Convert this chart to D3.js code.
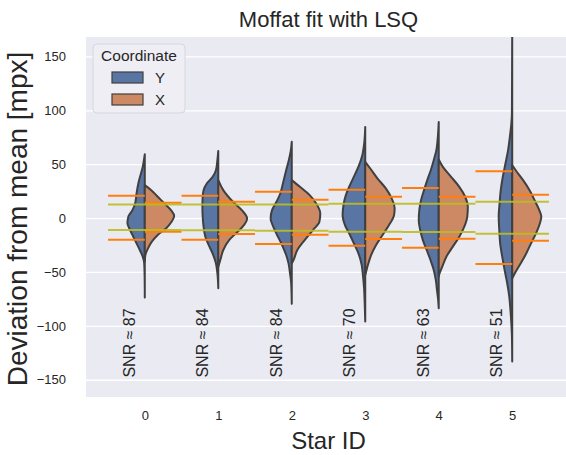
<!DOCTYPE html>
<html>
<head>
<meta charset="utf-8">
<script src="https://cdn.jsdelivr.net/npm/d3@7"></script>
<style>
  body { margin: 0; background: #fff; }
  text { font-family: "Liberation Sans", Arial, sans-serif; fill: #262626; }
</style>
</head>
<body>
<svg id="chart" width="566" height="455"></svg>
<script>
// ---- data -------------------------------------------------------------
const stars = [0, 1, 2, 3, 4, 5];
const snr = [87, 84, 84, 70, 63, 51];
const coordinates = ["Y", "X"];
const yTicks = [-150, -100, -50, 0, 50, 100, 150];

// Kernel density profiles per star: [deviation (mpx), relative density]
const densityY = [
  [[59.3,0],[53.7,.03],[47.5,.07],[41.4,.13],[32.1,.22],[22.8,.28],[13.6,.33],[7.4,.42],[1.2,.56],[-4.9,.59],[-11.1,.50],[-17.3,.39],[-23.5,.28],[-29.6,.17],[-35.8,.07],[-42,.02],[-55,.005],[-73.8,0]],
  [[62.3,0],[53.7,.03],[44.4,.08],[38.3,.19],[32.1,.39],[25.9,.50],[19.8,.53],[10.5,.54],[1.2,.53],[-8,.50],[-17.3,.44],[-26.5,.30],[-34.3,.17],[-42,.08],[-51.2,.03],[-65.1,0]],
  [[70.7,0],[63,.03],[53.7,.10],[44.4,.19],[32.1,.30],[22.8,.39],[15.1,.52],[7.4,.67],[-0.3,.72],[-8,.63],[-15.7,.50],[-25,.33],[-34.3,.19],[-42,.11],[-51.2,.06],[-60.5,.02],[-79.6,0]],
  [[84.6,0],[70.7,.03],[58.3,.10],[49.1,.21],[39.8,.36],[30.6,.52],[21.3,.66],[12,.74],[2.8,.77],[-6.5,.69],[-15.7,.52],[-25,.36],[-34.3,.21],[-43.5,.12],[-52.8,.08],[-65.1,.04],[-77.5,.02],[-96,0]],
  [[89.2,0],[75.3,.03],[63,.08],[53.7,.17],[44.4,.27],[35.2,.39],[25.9,.50],[16.7,.60],[7.4,.66],[-1.9,.68],[-11.1,.63],[-20.4,.54],[-29.6,.41],[-38.9,.28],[-48.1,.17],[-57.4,.10],[-66.7,.06],[-75.9,.02],[-83.6,0]],
  [[175,0],[96.9,.01],[87.7,.03],[75.3,.08],[63,.14],[50.6,.23],[38.3,.32],[25.9,.39],[13.6,.43],[1.2,.46],[-11.1,.44],[-23.5,.41],[-35.8,.34],[-48.1,.26],[-60.5,.17],[-72.8,.10],[-85.2,.06],[-97.5,.03],[-109.9,.01],[-133,0]]
];
const densityX = [
  [[30.6,0],[25.9,.22],[19.8,.44],[13.6,.67],[7.4,.89],[1.9,1.0],[-3.4,.91],[-9.6,.72],[-15.7,.44],[-21.9,.24],[-28.1,.11],[-34.3,.02],[-40,0]],
  [[35.2,0],[25.9,.17],[15.1,.50],[7.4,.80],[-0.3,.98],[-8,.83],[-14.2,.60],[-20.4,.37],[-29.6,.17],[-38.9,.07],[-45.1,0]],
  [[35.2,0],[29,.28],[21.3,.61],[13.6,.83],[4.3,.97],[-3.4,.94],[-11.1,.72],[-20.4,.44],[-29.6,.19],[-38.9,.06],[-42,0]],
  [[52.2,0],[46,.17],[36.7,.42],[27.5,.70],[18.2,.90],[9,1.0],[2.8,.98],[-6.5,.81],[-15.7,.59],[-25,.37],[-34.3,.20],[-43.5,.09],[-49.7,.03],[-52.8,0]],
  [[54.3,0],[47.5,.14],[38.3,.42],[29,.70],[19.8,.90],[10.5,.99],[1.2,.97],[-8,.87],[-17.3,.70],[-26.5,.48],[-35.8,.26],[-45.1,.12],[-51.2,.03],[-54.3,0]],
  [[49.1,0],[44.4,.12],[35.2,.37],[25.9,.59],[16.7,.76],[7.4,.92],[1.2,.99],[-5,.94],[-14.2,.81],[-23.5,.64],[-32.7,.48],[-42,.29],[-51.2,.09],[-55.9,0]]
];

// Measured scatter (orange) per coordinate
const scatterYUpper = [20.6, 20.7, 24.4, 26.2, 27.8, 43.5];
const scatterYLower = [-20.1, -20.1, -24.1, -25.6, -27.5, -42.6];
const scatterXUpper = [14.2, 15.1, 17.0, 19.8, 19.8, 21.6];
const scatterXLower = [-12.7, -14.8, -15.4, -19.4, -19.1, -21.0];
// Expected scatter from SNR (olive)
const expectedUpper = [12.7, 12.7, 12.7, 13.3, 13.3, 15.1];
const expectedLower = [-11.1, -11.4, -11.7, -12.7, -13.0, -14.5];

// ---- layout -----------------------------------------------------------
const svg = d3.select("#chart");
const plot = { left: 86, right: 571, top: 37, bottom: 397 };
const colors = { Y: "#5975a4", X: "#cc8963" };
const edge = "#404040";
const font = '"Liberation Sans", Arial, sans-serif';

const x = d3.scaleLinear().domain([-0.8, 5.8]).range([plot.left, plot.right]);
const y = d3.scaleLinear().domain([-166, 168]).range([plot.bottom, plot.top]);
const step = x(1) - x(0);
const halfWidth = d3.scaleLinear().domain([0, 1]).range([0, 0.4 * step]);

svg.append("defs").append("clipPath").attr("id", "plotClip")
  .append("rect")
  .attr("x", plot.left).attr("y", plot.top)
  .attr("width", plot.right - plot.left).attr("height", plot.bottom - plot.top);

// background and horizontal grid
svg.append("rect")
  .attr("x", plot.left).attr("y", plot.top)
  .attr("width", plot.right - plot.left).attr("height", plot.bottom - plot.top)
  .attr("fill", "#eaeaf2");

const yAxis = d3.axisLeft(y).tickValues(yTicks)
  .tickSize(-(plot.right - plot.left)).tickPadding(20)
  .tickFormat(d => d < 0 ? "\u2212" + Math.abs(d) : String(d));
const gy = svg.append("g").attr("transform", `translate(${plot.left},0)`).call(yAxis);
gy.select(".domain").remove();
gy.selectAll(".tick line").attr("stroke", "#ffffff").attr("stroke-width", 1.3);
gy.selectAll(".tick text").attr("font-size", 13).attr("fill", "#262626").style("font-family", font);

const xAxis = d3.axisBottom(x).tickValues(stars).tickSize(0).tickPadding(14)
  .tickFormat(d3.format("d"));
const gx = svg.append("g").attr("transform", `translate(0,${plot.bottom})`).call(xAxis);
gx.select(".domain").remove();
gx.selectAll(".tick text").attr("font-size", 13).attr("fill", "#262626").style("font-family", font);

// ---- violins ----------------------------------------------------------
const body = svg.append("g").attr("clip-path", "url(#plotClip)");

stars.forEach((s, i) => {
  const cx = x(s);
  [["Y", densityY[i], -1], ["X", densityX[i], 1]].forEach(([coord, prof, sign]) => {
    const area = d3.area()
      .curve(d3.curveMonotoneY)
      .y(d => y(d[0]))
      .x0(() => cx)
      .x1(d => cx + sign * halfWidth(d[1]));
    body.append("path")
      .attr("d", area(prof))
      .attr("fill", colors[coord])
      .attr("stroke", edge)
      .attr("stroke-width", 2)
      .attr("stroke-linejoin", "round");
  });
});

// measured scatter, one half per coordinate
const segs = [];
stars.forEach((s, i) => {
  segs.push([s - 0.5, s, scatterYUpper[i]], [s - 0.5, s, scatterYLower[i]]);
  segs.push([s, s + 0.5, scatterXUpper[i]], [s, s + 0.5, scatterXLower[i]]);
});
body.selectAll("line.scatter").data(segs).join("line")
  .attr("class", "scatter")
  .attr("x1", d => x(d[0])).attr("x2", d => x(d[1]))
  .attr("y1", d => y(d[2])).attr("y2", d => y(d[2]))
  .attr("stroke", "#ff7f0e").attr("stroke-width", 2);

// expected scatter across the whole category
const exp = [];
stars.forEach((s, i) => {
  exp.push([s - 0.5, s + 0.5, expectedUpper[i]], [s - 0.5, s + 0.5, expectedLower[i]]);
});
body.selectAll("line.expected").data(exp).join("line")
  .attr("class", "expected")
  .attr("x1", d => x(d[0])).attr("x2", d => x(d[1]))
  .attr("y1", d => y(d[2])).attr("y2", d => y(d[2]))
  .attr("stroke", "#bcbd22").attr("stroke-width", 2).attr("opacity", 0.9);

// SNR annotations
body.selectAll("text.snr").data(stars).join("text")
  .attr("class", "snr")
  .attr("transform", d => `translate(${x(d - 0.135)},${y(-148)}) rotate(-90)`)
  .attr("font-size", 16)
  .text((d, i) => `SNR \u2248 ${snr[i]}`);

// ---- labels -----------------------------------------------------------
svg.append("text")
  .attr("x", (plot.left + plot.right) / 2).attr("y", 27)
  .attr("text-anchor", "middle").attr("font-size", 22)
  .text("Moffat fit with LSQ");

svg.append("text")
  .attr("x", (plot.left + plot.right) / 2).attr("y", 449)
  .attr("text-anchor", "middle").attr("font-size", 24)
  .text("Star ID");

svg.append("text")
  .attr("transform", `translate(27,${(plot.top + plot.bottom) / 2 + 2}) rotate(-90)`)
  .attr("text-anchor", "middle").attr("font-size", 28)
  .text("Deviation from mean [mpx]");

// ---- legend -----------------------------------------------------------
const lg = svg.append("g").attr("transform", "translate(93,44)");
lg.append("rect").attr("width", 92).attr("height", 69).attr("rx", 4)
  .attr("fill", "#eeeef4").attr("stroke", "#d6d6de").attr("stroke-width", 1);
lg.append("text").attr("x", 46).attr("y", 17).attr("text-anchor", "middle")
  .attr("font-size", 15.5).text("Coordinate");
coordinates.forEach((c, k) => {
  const row = lg.append("g").attr("transform", `translate(19,${28 + k * 22})`);
  row.append("rect").attr("width", 31).attr("height", 11)
    .attr("fill", colors[c]).attr("stroke", edge).attr("stroke-width", 1.2);
  row.append("text").attr("x", 43).attr("y", 11).attr("font-size", 15).text(c);
});
</script>
</body>
</html>
